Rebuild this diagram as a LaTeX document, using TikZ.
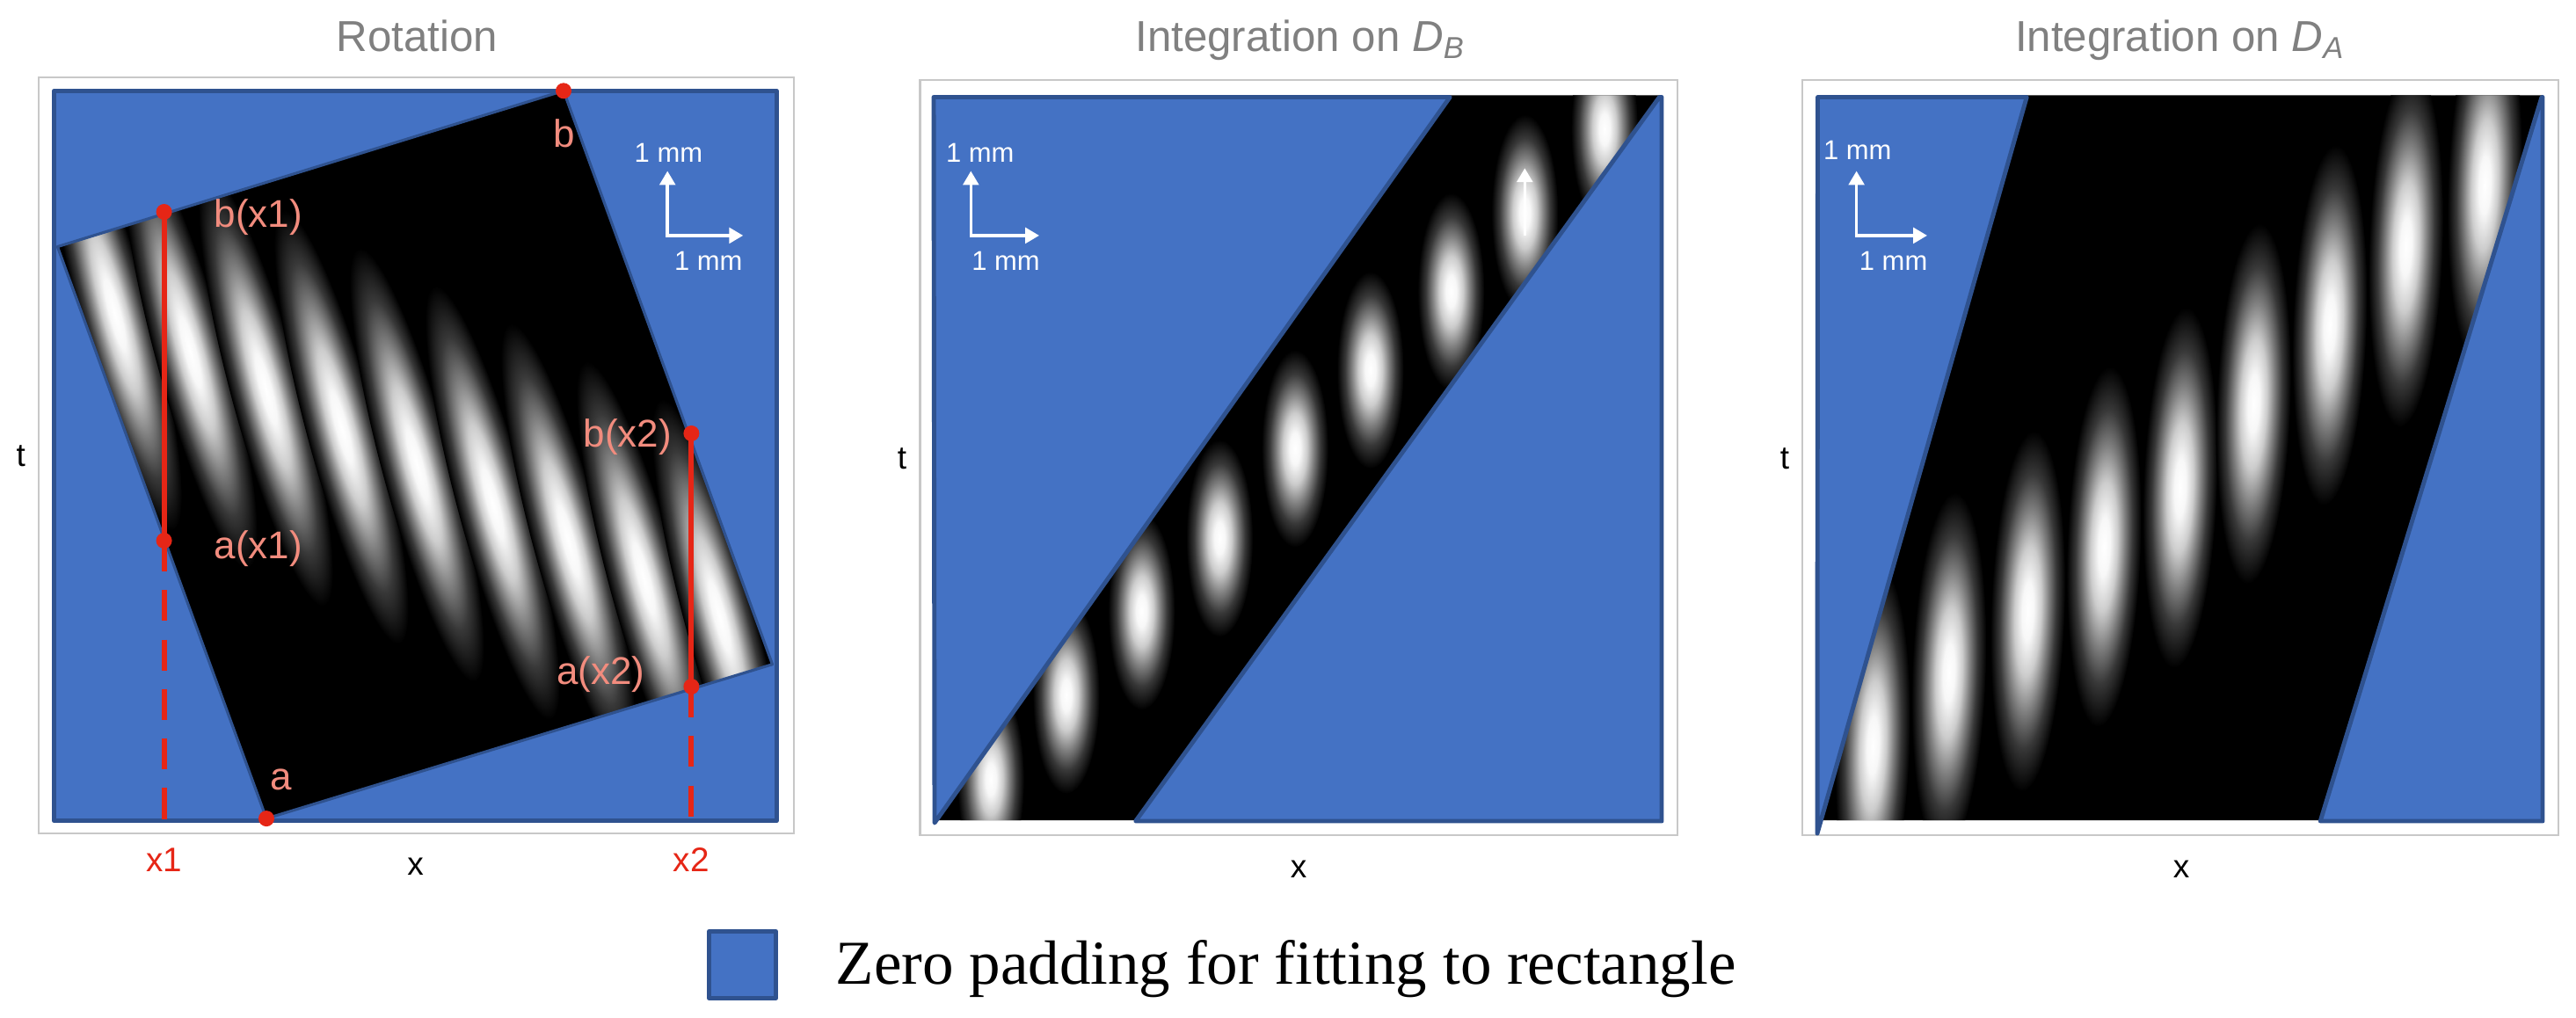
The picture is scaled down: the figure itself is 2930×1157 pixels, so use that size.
\documentclass[tikz,border=0pt]{standalone}
\usepackage{fontspec}
\setmainfont{Liberation Sans}
\newfontfamily\legendfont{Liberation Serif}
\usetikzlibrary{arrows.meta}
\definecolor{padblue}{RGB}{68,114,196}
\definecolor{padedge}{RGB}{47,82,143}
\definecolor{framegray}{RGB}{200,200,200}
\definecolor{titlegray}{RGB}{128,128,128}
\definecolor{markred}{RGB}{230,38,22}
\definecolor{salmon}{RGB}{242,140,126}
\pgfdeclareradialshading{blob}{\pgfpointorigin}{color(0bp)=(white); color(4bp)=(white!97!black); color(9bp)=(white!80!black); color(14bp)=(white!50!black); color(19bp)=(white!22!black); color(25bp)=(black); color(50bp)=(black)}
\begin{document}
\begin{tikzpicture}[x=0.01cm,y=-0.01cm,
  frame/.style={draw=framegray, line width=0.6pt},
  pad/.style={fill=padblue, draw=padedge, line width=1.4pt, line join=round},
  edgeline/.style={draw=padedge, line width=0.9pt, line join=round},
  title/.style={text=titlegray, font=\fontsize{14}{16}\selectfont, anchor=base, inner sep=0pt},
  axislab/.style={text=black, font=\fontsize{10.5}{12}\selectfont, inner sep=0pt},
  scalelab/.style={text=white, font=\fontsize{8.8}{10}\selectfont, inner sep=0pt},
  scalearrow/.style={draw=white, line width=1pt, {Triangle[width=5pt,length=4.5pt]}-{Triangle[width=5pt,length=4.5pt]}},
  upwhite/.style={draw=white, line width=1pt, -{Triangle[width=5pt,length=4.5pt]}},
  reddot/.style={circle, fill=markred, inner sep=0pt, minimum size=0.18cm},
  redline/.style={draw=markred, line width=1.7pt},
  reddash/.style={draw=markred, line width=1.7pt, dash pattern=on 10pt off 6pt},
  ptlab/.style={text=salmon, font=\fontsize{12.5}{14}\selectfont, inner sep=0pt},
  xlab/.style={text=markred, font=\fontsize{11}{13}\selectfont, anchor=base, inner sep=0pt},
  legtext/.style={font=\legendfont\fontsize{20.2}{24}\selectfont, anchor=base west, inner sep=0pt}
]
\useasboundingbox (0,0) rectangle (2930,1157);
\fill[white] (0,0) rectangle (2930,1157);

% ---------------- Panel 1 : Rotation ----------------
\draw[frame] (43.6,88) rectangle (902.7,948.3);
\draw[pad] (61.3,103.3) rectangle (883.3,933.7);
\coordinate (L) at (65.4,280.6);
\coordinate (B) at (641,103.3);
\coordinate (R) at (878.5,755.7);
\coordinate (A) at (303,931.1);
\begin{scope}
  \clip (L) -- (B) -- (R) -- (A) -- cycle;
  \fill[black] (L) -- (B) -- (R) -- (A) -- cycle;
  \foreach \cx/\cy in {130.4/356.8, 216.3/399.9, 302.3/442.8, 388.2/485.9, 474.2/528.8, 560.1/571.9, 646.1/614.8, 732.1/657.9, 818/700.8}{
    \begin{scope}[transform canvas={rotate around={15:(\cx,\cy)}}]
      \shade[shading=blob] (\cx,\cy) ellipse [x radius=40, y radius=255];
    \end{scope}
  }
\end{scope}
\draw[edgeline] (L) -- (B) -- (R) -- (A) -- cycle;

% scale arrows panel 1
\coordinate (s1c) at (759.2,267.9);
\coordinate (s1u) at (759.2,194.5);
\coordinate (s1r) at (845.2,267.9);
\draw[scalearrow] (s1u) -- (s1c) -- (s1r);
\node[scalelab] (s1t) at (760.4,173.5) {1 mm};
\node[scalelab] (s1b) at (805.8,297.2) {1 mm};

% red construction lines
\coordinate (x1foot) at (186.6,937);
\coordinate (x2foot) at (786.4,937);
\node[reddot] (bx1) at (186.6,241) {};
\node[reddot] (ax1) at (186.6,615) {};
\node[reddot] (bx2) at (786.4,493) {};
\node[reddot] (ax2) at (786.4,781) {};
\node[reddot] (pa) at (303,931.1) {};
\node[reddot] (pb) at (641,103.3) {};
\draw[redline] (bx1.center) -- (ax1.center);
\draw[reddash] (ax1.center) -- (x1foot);
\draw[redline] (bx2.center) -- (ax2.center);
\draw[reddash] (ax2.center) -- (x2foot);

\node[ptlab] (lbx1) at (293.9,247.4) {b(x1)};
\node[ptlab] (lax1) at (293.9,623.7) {a(x1)};
\node[ptlab] (lbx2) at (713.7,497.4) {b(x2)};
\node[ptlab] (lax2) at (683.4,767.2) {a(x2)};
\node[ptlab] (la) at (320,886.5) {a};
\node[ptlab] (lb) at (642,152) {b};

\node[xlab] (lx1) at (186.6,991.5) {x1};
\node[xlab] (lx2) at (786.4,991.5) {x2};
\node[axislab] (tl1) at (23.7,519) {t};
\node[axislab] (xl1) at (472.7,986) {x};
\node[title] (t1) at (474.4,58.7) {Rotation};

% ---------------- Panel 2 : Integration on D_B ----------------
\draw[frame] (1046.5,91) rectangle (1907.6,950.3);
\coordinate (P2a) at (1066.7,933);
\coordinate (P2b) at (1649.2,108.4);
\coordinate (P2c) at (1887.4,108.4);
\coordinate (P2d) at (1291.7,933);
\begin{scope}
  \clip (P2a) -- (P2b) -- (P2c) -- (P2d) -- cycle;
  \fill[black] (P2a) -- (P2b) -- (P2c) -- (P2d) -- cycle;
  \foreach \cx/\cy in {1126.9/886.5, 1212.7/790.8, 1298.4/695.2, 1387.1/612.2, 1472.9/510.2, 1558.6/420.9, 1650.4/331.6, 1734.3/242.3, 1824.9/146.7}{
    \shade[shading=blob] (\cx,\cy) ellipse [x radius=38, y radius=112];
  }
\end{scope}
\draw[pad] (1062,110.5) -- (1649.2,110.5) -- (1063,936) -- cycle;
\draw[pad] (1887.4,110.5) -- (1890,110.5) -- (1890,934) -- (1291.7,934) -- cycle;

\coordinate (s2c) at (1104.3,267.9);
\coordinate (s2u) at (1104.3,194.5);
\coordinate (s2r) at (1182,267.9);
\draw[scalearrow] (s2u) -- (s2c) -- (s2r);
\node[scalelab] (s2t) at (1114.7,173.5) {1 mm};
\node[scalelab] (s2b) at (1144.1,297.2) {1 mm};
\coordinate (w2s) at (1734.3,267.9);
\coordinate (w2e) at (1734.3,191.3);
\draw[upwhite] (w2s) -- (w2e);

\node[axislab] (tl2) at (1025.9,521.7) {t};
\node[axislab] (xl2) at (1477,988.5) {x};
\node[title] (t2) at (1479,58.7) {Integration on \textit{D}\textsubscript{\textit{B}}};

% ---------------- Panel 3 : Integration on D_A ----------------
\draw[frame] (2049.7,91) rectangle (2909.6,950);
\coordinate (P3a) at (2071.7,933);
\coordinate (P3b) at (2305.2,108.4);
\coordinate (P3c) at (2891,108.4);
\coordinate (P3d) at (2639.2,933);
\begin{scope}
  \clip (P3a) -- (P3b) -- (P3c) -- (P3d) -- cycle;
  \fill[black] (P3a) -- (P3b) -- (P3c) -- (P3d) -- cycle;
  \foreach \cx/\cy in {2130.1/848.2, 2216.7/765.3, 2306.4/695.2, 2393/621.8, 2479.6/554.8, 2563.2/459.2, 2649.8/369.9, 2736.4/280.6, 2826.1/210.5}{
    \begin{scope}[transform canvas={rotate around={-2:(\cx,\cy)}}]
      \shade[shading=blob] (\cx,\cy) ellipse [x radius=42, y radius=205];
    \end{scope}
  }
\end{scope}
\draw[pad] (2067.5,110.5) -- (2305.2,110.5) -- (2067,948) -- cycle;
\draw[pad] (2891,110.5) -- (2892,110.5) -- (2892,934) -- (2639.2,934) -- cycle;

\coordinate (s3c) at (2111.6,267.9);
\coordinate (s3u) at (2111.6,194.5);
\coordinate (s3r) at (2192,267.9);
\draw[scalearrow] (s3u) -- (s3c) -- (s3r);
\node[scalelab] (s3t) at (2112.8,170.9) {1 mm};
\node[scalelab] (s3b) at (2153.6,297.2) {1 mm};

\node[axislab] (tl3) at (2029.9,521.7) {t};
\node[axislab] (xl3) at (2481,988.5) {x};
\node[title] (t3) at (2479.6,58.7) {Integration on \textit{D}\textsubscript{\textit{A}}};

% ---------------- Legend ----------------
\draw[pad] (806.5,1059.5) rectangle (882.5,1135.5);
\node[legtext] (leg) at (950,1119.3) {Zero padding for fitting to rectangle};
\end{tikzpicture}
\end{document}
